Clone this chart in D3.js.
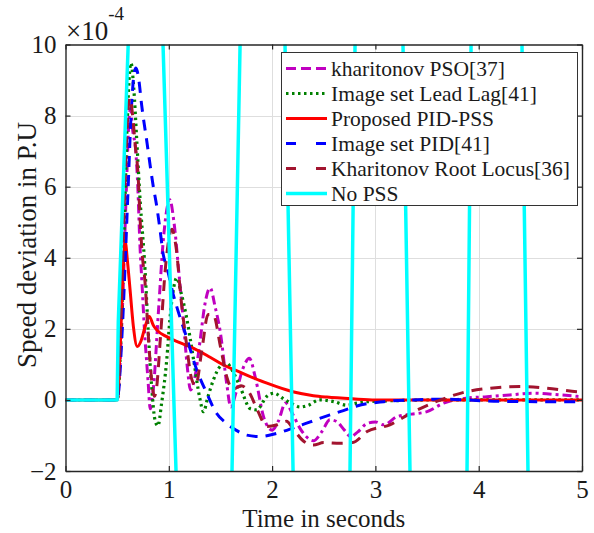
<!DOCTYPE html>
<html>
<head>
<meta charset="utf-8">
<script src="https://cdn.jsdelivr.net/npm/d3@7"></script>
<style>
  body { margin: 0; background: #fff; }
  svg { display: block; }
  text { font-family: "Liberation Serif", "Times New Roman", serif; fill: #1a1a1a; }
</style>
</head>
<body>
<svg id="chart" width="594" height="533"></svg>
<script>
// Axis ticks (speed deviation is in units of 1e-4 p.u.)
const xTicks = [0, 1, 2, 3, 4, 5];
const yTicks = [-2, 0, 2, 4, 6, 8, 10];

// Series: [time (s), speed deviation (x1e-4 p.u.)]
const khPSO = [[0,0],[0.5,0],[0.55,2.5],[0.59,6],[0.615,7.9],[0.63,8.2],[0.65,7.6],[0.68,7.0],[0.70,6.0],[0.72,4.4],
  [0.74,3.3],[0.77,1.7],[0.785,1.1],[0.80,0.5],[0.82,-0.25],[0.85,0.3],[0.9,2.5],[0.95,4.6],[1.01,5.63],[1.05,5.0],
  [1.1,3.5],[1.14,2.25],[1.18,0.9],[1.21,0.28],[1.25,0.6],[1.3,1.6],[1.35,2.7],[1.4,3.15],[1.45,2.6],[1.5,1.88],
  [1.56,0.47],[1.6,-0.2],[1.65,0.2],[1.72,0.9],[1.78,1.17],[1.84,0.6],[1.92,-0.5],[2.0,-0.85],[2.06,-0.6],[2.13,-0.09],
  [2.2,-0.4],[2.27,-0.8],[2.33,-1.03],[2.4,-1.15],[2.48,-0.9],[2.56,-0.56],[2.62,-0.6],[2.7,-0.85],[2.76,-1.03],[2.83,-0.9],
  [2.92,-0.66],[3.0,-0.62],[3.08,-0.7],[3.21,-0.47],[3.35,-0.4],[3.5,-0.33],[3.66,-0.09],[3.88,0.05],[4.08,0.09],[4.3,0.14],
  [4.53,0.19],[4.79,0.14],[5,0.09]];

const leadLag = [[0,0],[0.5,0],[0.54,2],[0.57,5],[0.6,8],[0.62,9.2],[0.634,9.48],[0.66,8.8],[0.69,7.3],[0.72,5.73],
  [0.77,3.66],[0.8,1.97],[0.834,0.37],[0.866,-0.56],[0.895,-0.73],[0.93,-0.1],[0.98,1.13],[1.01,2.25],[1.05,3.2],[1.076,3.43],
  [1.12,3.0],[1.17,2.35],[1.24,1.13],[1.3,0.05],[1.335,-0.33],[1.38,0.1],[1.43,0.55],[1.5,0.95],[1.56,1.03],[1.62,0.8],
  [1.69,0.37],[1.79,-0.25],[1.85,-0.28],[1.95,0.1],[2.02,0.19],[2.1,0.05],[2.2,-0.12],[2.27,-0.2],[2.35,-0.15],[2.46,0.0],
  [2.6,-0.05],[2.72,-0.15],[2.82,-0.09],[2.92,-0.05],[3.2,-0.02],[3.6,0],[4,0],[5,0]];

const pidPSS = [[0,0],[0.5,0],[0.53,1.5],[0.56,3.8],[0.578,4.45],[0.6,3.9],[0.625,3.1],[0.657,2.07],[0.695,1.5],[0.73,1.65],
  [0.77,2.05],[0.811,2.35],[0.85,2.1],[0.883,1.97],[0.98,1.78],[1.1,1.62],[1.235,1.46],[1.4,1.2],[1.525,0.99],[1.65,0.83],
  [1.754,0.7],[1.95,0.47],[2.2,0.23],[2.4,0.12],[2.53,0.08],[2.78,0.03],[3.0,0.0],[5,0]];

const imgPID = [[0,0],[0.5,0],[0.55,2],[0.6,5.5],[0.64,8.3],[0.665,9.2],[0.682,9.34],[0.71,9.0],[0.737,8.3],[0.786,7.3],
  [0.85,6.0],[0.883,5.45],[0.915,4.79],[0.947,4.08],[0.98,3.75],[1.04,3.0],[1.076,2.63],[1.17,1.78],[1.27,0.85],[1.367,0.19],
  [1.46,-0.37],[1.56,-0.66],[1.65,-0.85],[1.754,-0.99],[1.88,-1.03],[2.045,-0.94],[2.24,-0.75],[2.37,-0.62],[2.46,-0.52],[2.56,-0.42],
  [2.69,-0.3],[2.82,-0.17],[3.08,-0.05],[3.37,0],[3.66,0.02],[4.2,-0.04],[4.85,-0.05],[5,-0.05]];

const khRootLocus = [[0,0],[0.5,0],[0.54,2.5],[0.58,6.5],[0.61,8.3],[0.624,8.5],[0.65,8.0],[0.673,7.23],[0.705,6.2],[0.72,5.2],
  [0.74,4.2],[0.77,3.3],[0.8,1.9],[0.818,1.1],[0.84,0.4],[0.86,0.1],[0.88,0.3],[0.92,1.8],[0.97,3.8],[1.03,4.8],
  [1.07,4.3],[1.12,2.8],[1.17,1.6],[1.22,0.6],[1.26,0.4],[1.32,1.4],[1.38,2.4],[1.43,2.4],[1.5,1.5],[1.56,0.66],
  [1.62,0.3],[1.7,0.4],[1.78,0.2],[1.86,-0.3],[1.95,-0.75],[2.05,-0.7],[2.14,-0.6],[2.2,-0.8],[2.3,-1.15],[2.4,-1.27],
  [2.5,-1.2],[2.66,-1.22],[2.78,-1.2],[2.92,-0.89],[3.14,-0.7],[3.34,-0.38],[3.63,0],[3.88,0.23],[4.11,0.33],[4.4,0.38],
  [4.66,0.33],[4.95,0.23],[5,0.22]];

// Without a stabiliser the oscillation grows far beyond the axis limits
const noPSS = [[0,0],[0.5,0],[0.511,2.2],[0.607,10],[0.78,25],[0.944,10],[1.07,-2],[1.34,-28],[1.612,-2],[1.69,10],
  [1.91,32],[2.125,10],[2.203,-2],[2.48,-36],[2.754,-2],[2.803,10],[3.04,40],[3.267,10],[3.335,-2],[3.61,-45],
  [3.887,-2],[3.926,10],[4.17,50],[4.419,10],[4.477,-2],[4.75,-55],[5,-20]];

const seriesNames = ["kharitonov PSO[37]", "Image set Lead Lag[41]", "Proposed PID-PSS",
                     "Image set PID[41]", "Kharitonov Root Locus[36]", "No PSS"];
const seriesData = [khPSO, leadLag, pidPSS, imgPID, khRootLocus, noPSS];
const seriesColors = ["#c000c0", "#008000", "#ff0000", "#0000ff", "#a2142f", "#00ffff"];
const seriesDash = ["9,4,3,4", "2.5,3.5", null, "11,8", "11,8", null];
const seriesWidth = [3, 3.2, 3, 3, 3, 3.5];

const svg = d3.select("#chart");
const L = 65.5, R = 582, T = 44.5, B = 471;

const x = d3.scaleLinear().domain([0, 5]).range([L, R]);
const y = d3.scaleLinear().domain([-2, 10]).range([B, T]);

// Grid
const grid = svg.append("g").attr("stroke", "#dedede").attr("stroke-width", 1);
grid.selectAll(".gx").data(xTicks.slice(1, -1)).join("line")
  .attr("x1", d => Math.round(x(d)) + 0.5).attr("x2", d => Math.round(x(d)) + 0.5)
  .attr("y1", T).attr("y2", B);
grid.selectAll(".gy").data(yTicks.slice(1, -1)).join("line")
  .attr("y1", d => Math.round(y(d)) + 0.5).attr("y2", d => Math.round(y(d)) + 0.5)
  .attr("x1", L).attr("x2", R);

// Curves
svg.append("clipPath").attr("id", "plotClip")
  .append("rect").attr("x", L).attr("y", T).attr("width", R - L).attr("height", B - T);

const line = d3.line().x(d => x(d[0])).y(d => y(d[1])).curve(d3.curveMonotoneX);
const lineStraight = d3.line().x(d => x(d[0])).y(d => y(d[1]));

const curves = svg.append("g").attr("clip-path", "url(#plotClip)");
seriesData.forEach((data, i) => {
  curves.append("path")
    .datum(data)
    .attr("d", i === 5 ? lineStraight : line)
    .attr("fill", "none")
    .attr("stroke", seriesColors[i])
    .attr("stroke-width", seriesWidth[i])
    .attr("stroke-dasharray", seriesDash[i])
    .attr("stroke-linejoin", "round");
});

// Axes with inward ticks on all four sides
const axisColor = "#262626";
const gx = svg.append("g").attr("transform", `translate(0,${B})`)
  .call(d3.axisBottom(x).tickValues(xTicks).tickSizeInner(-5).tickSizeOuter(0).tickPadding(9).tickFormat(d3.format("d")));
const gy = svg.append("g").attr("transform", `translate(${L},0)`)
  .call(d3.axisLeft(y).tickValues(yTicks).tickSizeInner(-5).tickSizeOuter(0).tickPadding(9).tickFormat(d3.format("d")));
const gt = svg.append("g").attr("transform", `translate(0,${T})`)
  .call(d3.axisTop(x).tickValues(xTicks).tickSizeInner(-5).tickSizeOuter(0).tickFormat(""));
const gr = svg.append("g").attr("transform", `translate(${R},0)`)
  .call(d3.axisRight(y).tickValues(yTicks).tickSizeInner(-5).tickSizeOuter(0).tickFormat(""));

[gx, gy, gt, gr].forEach(g => {
  g.select(".domain").attr("stroke", axisColor).attr("stroke-width", 1.4);
  g.selectAll(".tick line").attr("stroke", axisColor).attr("stroke-width", 1.2);
  g.selectAll(".tick text").attr("font-family", "Liberation Serif").attr("font-size", 25).attr("fill", "#1a1a1a");
});

// Exponent marker
const expo = svg.append("text").attr("x", 66).attr("y", 40).attr("font-size", 27);
expo.append("tspan").text("\u00d710");
expo.append("tspan").attr("font-size", 19).attr("dy", -20).text("-4");

// Axis titles
svg.append("text").attr("x", (L + R) / 2).attr("y", 527).attr("text-anchor", "middle")
  .attr("font-size", 25).text("Time in seconds");
svg.append("text").attr("transform", "translate(36,245) rotate(-90)")
  .attr("text-anchor", "middle").attr("font-size", 27).text("Speed deviation in P.U");

// Legend
const lg = svg.append("g");
lg.append("rect").attr("x", 281.5).attr("y", 52.5).attr("width", 296).attr("height", 153)
  .attr("fill", "#fff").attr("stroke", "#333").attr("stroke-width", 1);
seriesNames.forEach((name, i) => {
  const cy = 68.5 + i * 25;
  lg.append("line").attr("x1", 286).attr("x2", 327).attr("y1", cy).attr("y2", cy)
    .attr("stroke", seriesColors[i]).attr("stroke-width", seriesWidth[i])
    .attr("stroke-dasharray", i === 0 ? "10,5" : (i === 3 || i === 4) ? "10,20" : seriesDash[i]);
  lg.append("text").attr("x", 331).attr("y", cy).attr("dy", "0.35em")
    .attr("font-size", 21.5).text(name);
});
</script>
</body>
</html>
